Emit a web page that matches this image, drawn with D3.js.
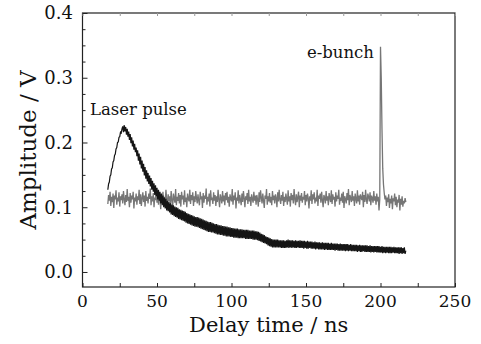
<!DOCTYPE html>
<html>
<head>
<meta charset="utf-8">
<script src="https://cdn.jsdelivr.net/npm/d3@7"></script>
<style>
  html, body { margin: 0; padding: 0; background: #fff; }
  text { font-family: "DejaVu Serif", serif; }
</style>
</head>
<body>
<svg id="chart" width="481" height="344"></svg>
<script>
// sample grid of the scope traces, ns (0.5 ns step, 17..217)
const timeStart = 17
const timeEnd = 217
const timeStep = 0.5

// e-bunch trace (grey), volts
const ebunch = [
  .105,.119,.110,.124,.102,.116,.108,.121,.099,.118,.112,.126,.104,.115,.109,.123,.101,.117,.111,.120,
  .106,.125,.113,.103,.119,.108,.128,.110,.116,.100,.122,.107,.118,.112,.124,.098,.115,.109,.121,.104,
  .117,.111,.127,.105,.120,.102,.114,.123,.108,.118,.101,.125,.110,.116,.106,.121,.113,.129,.103,.117,
  .109,.122,.100,.115,.111,.126,.107,.119,.104,.123,.112,.097,.118,.110,.124,.105,.116,.108,.127,.113,
  .102,.120,.109,.117,.105,.125,.111,.099,.121,.114,.107,.128,.103,.116,.110,.122,.106,.119,.101,.124,
  .112,.118,.104,.126,.108,.115,.100,.121,.113,.109,.127,.105,.119,.111,.123,.102,.117,.108,.125,.114,
  .106,.120,.110,.103,.124,.112,.117,.099,.122,.107,.118,.113,.129,.104,.116,.109,.121,.101,.126,.111,
  .115,.105,.123,.110,.119,.102,.117,.108,.127,.112,.100,.120,.114,.106,.125,.109,.118,.103,.122,.111,
  .124,.107,.116,.101,.120,.113,.109,.128,.104,.118,.111,.123,.098,.115,.110,.126,.106,.119,.112,.103,
  .121,.108,.125,.114,.100,.117,.111,.122,.105,.127,.109,.116,.102,.120,.113,.107,.124,.110,.118,.104,
  .119,.112,.101,.123,.108,.126,.115,.106,.121,.110,.099,.118,.113,.128,.104,.117,.109,.122,.107,.116,
  .103,.125,.111,.118,.106,.120,.114,.100,.123,.109,.127,.112,.105,.119,.110,.124,.102,.116,.108,.121,
  .113,.104,.126,.109,.117,.101,.122,.111,.119,.106,.128,.113,.103,.120,.108,.115,.124,.100,.118,.110,
  .122,.107,.116,.112,.125,.103,.119,.109,.121,.114,.098,.117,.110,.126,.105,.120,.112,.123,.106,.115,
  .109,.127,.102,.118,.113,.121,.107,.124,.111,.100,.119,.115,.106,.125,.110,.117,.103,.122,.114,.108,
  .126,.105,.120,.112,.116,.101,.123,.109,.118,.113,.127,.104,.115,.110,.121,.107,.124,.099,.117,.112,
  .106,.122,.111,.128,.103,.119,.114,.108,.125,.110,.117,.102,.121,.113,.106,.126,.109,.118,.104,.120,
  .115,.111,.124,.100,.119,.108,.127,.112,.105,.121,.116,.109,.123,.103,.118,.114,.107,.125,.110,.117,
  .104,.121,.109,.116,.095,.112,.348,.300,.220,.160,.135,.122,.112,.118,.102,.115,.108,.120,.099,.113,
  .106,.118,.097,.114,.109,.121,.103,.116,.100,.112,.107,.119,.095,.113,.104,.117,.101,.110,.106,.114,
  .108
]

// laser pulse trace (black), volts
const laser = [
  .127,.136,.139,.148,.150,.159,.161,.170,.172,.180,.182,.190,.192,.200,.201,.208,.209,.216,.215,.221,
  .225,.216,.227,.217,.224,.212,.221,.209,.217,.204,.213,.199,.208,.194,.203,.189,.198,.185,.192,.179,
  .188,.172,.183,.166,.178,.160,.172,.155,.167,.149,.162,.144,.157,.140,.153,.136,.149,.132,.145,.127,
  .141,.124,.137,.119,.134,.117,.130,.112,.127,.110,.124,.106,.121,.103,.118,.100,.115,.098,.113,.095,
  .110,.094,.108,.092,.106,.089,.104,.088,.103,.086,.101,.085,.100,.084,.099,.082,.097,.081,.096,.080,
  .095,.079,.094,.078,.093,.076,.091,.075,.090,.074,.089,.073,.088,.072,.087,.071,.086,.070,.085,.070,
  .085,.069,.084,.068,.083,.067,.082,.066,.081,.065,.080,.064,.079,.063,.078,.062,.077,.062,.077,.061,
  .076,.061,.075,.060,.074,.059,.074,.058,.073,.058,.072,.057,.072,.057,.071,.056,.071,.056,.070,.055,
  .070,.055,.069,.055,.069,.054,.068,.054,.068,.053,.067,.053,.067,.053,.067,.052,.066,.052,.066,.052,
  .066,.052,.065,.052,.065,.051,.065,.051,.065,.051,.064,.051,.064,.051,.064,.050,.064,.050,.063,.050,
  .063,.049,.062,.048,.061,.047,.059,.046,.058,.045,.057,.044,.055,.043,.054,.041,.053,.040,.052,.039,
  .051,.038,.050,.038,.050,.038,.050,.038,.050,.038,.049,.038,.049,.037,.049,.037,.049,.037,.048,.037,
  .049,.038,.050,.037,.049,.038,.049,.037,.049,.038,.048,.037,.049,.037,.048,.038,.048,.037,.049,.037,
  .048,.037,.048,.036,.048,.037,.047,.036,.048,.036,.047,.037,.047,.036,.047,.036,.046,.036,.047,.035,
  .046,.036,.046,.035,.046,.035,.045,.035,.046,.035,.045,.034,.045,.035,.045,.034,.045,.034,.044,.034,
  .045,.034,.044,.034,.044,.033,.044,.034,.044,.033,.043,.033,.044,.033,.043,.033,.043,.033,.043,.032,
  .043,.033,.043,.032,.042,.033,.043,.032,.042,.032,.042,.032,.042,.032,.042,.031,.041,.032,.042,.031,
  .041,.031,.041,.032,.041,.031,.041,.031,.041,.031,.040,.031,.041,.030,.040,.031,.040,.030,.040,.031,
  .040,.030,.040,.030,.040,.030,.039,.030,.040,.029,.039,.030,.039,.029,.039,.030,.039,.029,.039,.029,
  .039,.029,.038,.030,.039,.029,.038,.029,.038,.029,.038,.028,.038,.029,.038,.028,.037,.029,.038,.028,
  .033
]

const xTicks = [0, 50, 100, 150, 200, 250]
const yTicks = [0.0, 0.1, 0.2, 0.3, 0.4]

const svg = d3.select("#chart")
const plot = { left: 82.5, right: 455, top: 13, bottom: 287 }

const x = d3.scaleLinear().domain([0, 250]).range([plot.left, plot.right])
const y = d3.scaleLinear().domain([-0.0232, 0.4]).range([plot.bottom, plot.top])

const times = d3.range(timeStart, timeEnd + timeStep / 2, timeStep)

svg.append("rect").attr("width", 481).attr("height", 344).attr("fill", "#fff")

// traces
const line = d3.line()
  .defined((d) => d[1] != null)
  .x((d) => x(d[0]))
  .y((d) => y(d[1]))

svg.append("path")
  .datum(times.map((t, i) => [t, ebunch[i]]))
  .attr("fill", "none")
  .attr("stroke", "#767676")
  .attr("stroke-width", 1.3)
  .attr("d", line)

svg.append("path")
  .datum(times.map((t, i) => [t, laser[i]]))
  .attr("fill", "none")
  .attr("stroke", "#151515")
  .attr("stroke-width", 1.2)
  .attr("d", line)

// frame
svg.append("rect")
  .attr("x", plot.left).attr("y", plot.top)
  .attr("width", plot.right - plot.left).attr("height", plot.bottom - plot.top)
  .attr("fill", "none").attr("stroke", "#222").attr("stroke-width", 1.2)

// bottom axis, ticks pointing in
const bx = svg.append("g").attr("transform", `translate(0,${plot.bottom})`)
bx.call(d3.axisBottom(x).tickValues(d3.range(0, 251, 25)).tickSize(-4).tickFormat(""))
bx.select(".domain").remove()
bx.selectAll("line").attr("stroke", "#222")

const tx = svg.append("g").attr("transform", `translate(0,${plot.top})`)
tx.call(d3.axisTop(x).tickValues(d3.range(0, 251, 25)).tickSize(-3).tickFormat(""))
tx.select(".domain").remove()
tx.selectAll("line").attr("stroke", "#999")

svg.append("g").selectAll("text")
  .data(xTicks)
  .join("text")
  .attr("x", (d) => x(d))
  .attr("y", 307)
  .attr("text-anchor", "middle")
  .attr("font-size", 17)
  .attr("fill", "#111")
  .text((d) => d)

// left axis
const ly = svg.append("g").attr("transform", `translate(${plot.left},0)`)
ly.call(d3.axisLeft(y).tickValues(d3.range(0, 0.401, 0.025)).tickSize(-3).tickFormat(""))
ly.select(".domain").remove()
ly.selectAll("line").attr("stroke", "#222")
ly.selectAll("line").filter((d) => Math.abs(d * 10 - Math.round(d * 10)) < 1e-6).attr("x2", 5)

svg.append("g").selectAll("text")
  .data(yTicks)
  .join("text")
  .attr("x", 73)
  .attr("y", (d) => y(d))
  .attr("dy", "0.35em")
  .attr("text-anchor", "end")
  .attr("font-size", 18)
  .attr("fill", "#111")
  .text((d) => d.toFixed(1))

// axis titles
svg.append("text")
  .attr("x", (plot.left + plot.right) / 2).attr("y", 332)
  .attr("text-anchor", "middle")
  .attr("font-size", 21)
  .attr("fill", "#111")
  .text("Delay time / ns")

svg.append("text")
  .attr("transform", `translate(36,${(plot.top + plot.bottom) / 2}) rotate(-90)`)
  .attr("text-anchor", "middle")
  .attr("font-size", 23)
  .attr("fill", "#111")
  .text("Amplitude / V")

// annotations
svg.append("text")
  .attr("x", 90).attr("y", 115)
  .attr("font-size", 16.5)
  .attr("fill", "#111")
  .text("Laser pulse")

svg.append("text")
  .attr("x", 374).attr("y", 58)
  .attr("text-anchor", "end")
  .attr("font-size", 16.5)
  .attr("fill", "#111")
  .text("e-bunch")
</script>
</body>
</html>
